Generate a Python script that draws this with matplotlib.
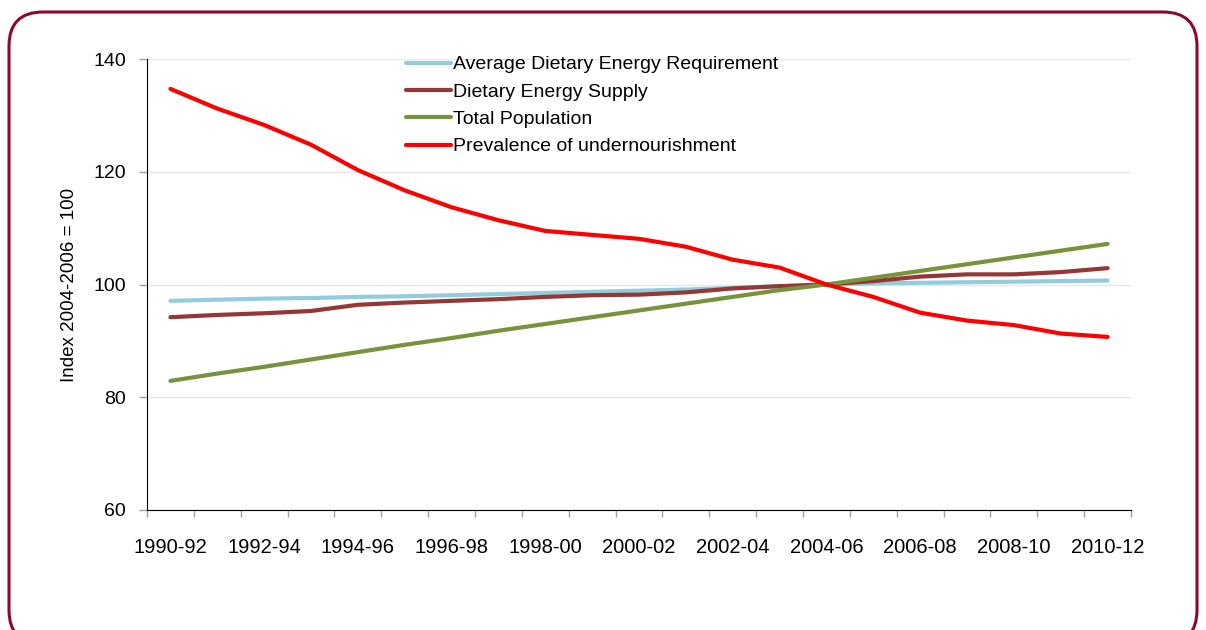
import matplotlib.pyplot as plt
from matplotlib.patches import FancyBboxPatch
from matplotlib.transforms import IdentityTransform

# three-year periods, 1990-92 ... 2010-12
periods = ['1990-92', '1991-93', '1992-94', '1993-95', '1994-96', '1995-97', '1996-98',
           '1997-99', '1998-00', '1999-01', '2000-02', '2001-03', '2002-04', '2003-05',
           '2004-06', '2005-07', '2006-08', '2007-09', '2008-10', '2009-11', '2010-12']

ader = [97.1, 97.3, 97.5, 97.6, 97.8, 97.9, 98.1, 98.3, 98.5, 98.7, 98.9,
        99.1, 99.4, 99.7, 100.0, 100.2, 100.3, 100.4, 100.5, 100.6, 100.7]
des = [94.2, 94.6, 94.9, 95.3, 96.4, 96.8, 97.1, 97.4, 97.8, 98.1, 98.2,
       98.6, 99.3, 99.7, 100.0, 100.6, 101.4, 101.8, 101.8, 102.2, 102.9]
population = [82.9, 84.2, 85.4, 86.7, 88.0, 89.3, 90.5, 91.8, 93.0, 94.2, 95.4,
              96.6, 97.8, 99.0, 100.0, 101.2, 102.4, 103.6, 104.8, 106.0, 107.2]
prevalence = [134.7, 131.2, 128.3, 124.8, 120.3, 116.7, 113.7, 111.4, 109.5, 108.8, 108.1,
              106.7, 104.4, 103.0, 100.0, 97.8, 95.0, 93.6, 92.8, 91.3, 90.7]

series = [
    ('Average Dietary Energy Requirement', ader, '#93CDDD'),
    ('Dietary Energy Supply', des, '#953735'),
    ('Total Population', population, '#77933C'),
    ('Prevalence of undernourishment', prevalence, '#FF0000'),
]

plt.rcParams['font.family'] = ['Liberation Sans', 'DejaVu Sans']

fig = plt.figure(figsize=(12.06, 6.3), dpi=100)
ax = fig.add_axes([147/1206, 1-510/630, (1131-147)/1206, (510-59)/630])

x = list(range(len(periods)))
for name, vals, col in series:
    ax.plot(x, vals, color=col, lw=3.0, label=name, solid_capstyle='round')

ax.set_xlim(-0.5, len(periods) - 0.5)
ax.set_ylim(60, 140)
ax.set_yticks([60, 80, 100, 120, 140])
ax.grid(axis='y', color='#E8E8E8', lw=1)
ax.set_axisbelow(True)

# category axis: ticks between categories, labels every second period
ax.set_xticks([i - 0.5 for i in range(len(periods) + 1)])
ax.set_xticklabels([])
ax.set_xticks(x[::2], minor=True)
ax.set_xticklabels(periods[::2], minor=True, fontsize=14.5)
ax.tick_params(axis='x', which='major', direction='out', length=5, color='#A0A0A0', width=1)
ax.tick_params(axis='x', which='minor', length=0, pad=20)
ax.tick_params(axis='y', direction='out', length=6, color='#A0A0A0', width=1, labelsize=14, pad=9)

for s in ['top', 'right']:
    ax.spines[s].set_visible(False)
ax.spines['left'].set_color('black')
ax.spines['bottom'].set_color('black')

ax.set_ylabel('Index 2004-2006 = 100', fontsize=13.5, labelpad=11)

ax.legend(loc='upper left', bbox_to_anchor=(398/1206, 1-48/630), bbox_transform=fig.transFigure,
          frameon=False, fontsize=14, handlelength=2.3, handletextpad=0.15,
          labelspacing=0.5, borderaxespad=0)

# rounded frame around the chart (pixel coordinates)
frame = FancyBboxPatch((9, -14), 1188, 630 - 12 + 14,
                       boxstyle='round,pad=0,rounding_size=34',
                       transform=IdentityTransform(), fill=False, ec='#8B0A2C', lw=2.2)
fig.patches.append(frame)

fig.savefig('out.png', dpi=100)
